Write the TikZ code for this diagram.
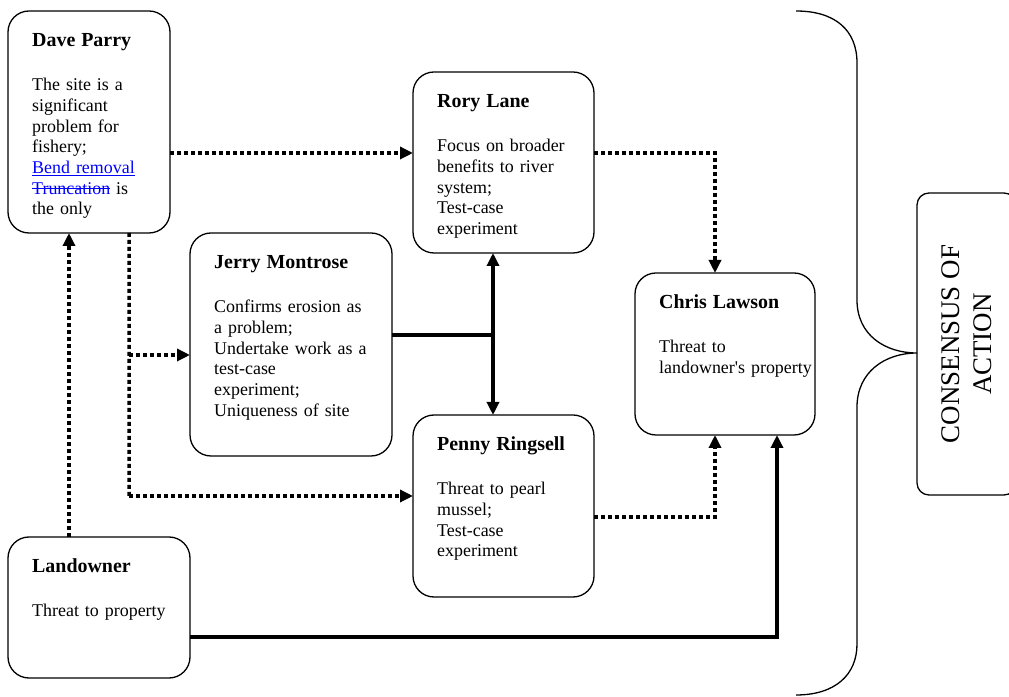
\documentclass[tikz,border=0pt]{standalone}
\usepackage{fontspec}
\setmainfont{Liberation Serif}
\usetikzlibrary{arrows.meta}

\newcommand{\boxtitle}[1]{{\fontsize{20}{23}\selectfont\bfseries #1}}
\newcommand{\struckword}[1]{\leavevmode\setbox0\hbox{#1}\rlap{\rule[0.27em]{\wd0}{0.07em}}\box0}
\newcommand{\plainquote}{{\addfontfeatures{Ligatures=TeXOff}'}}

\begin{document}
\begin{tikzpicture}[>={Triangle[length=13bp,width=12bp]},line join=miter,
  box/.style={draw,line width=1.3bp,rounded corners=21bp,inner sep=0pt,outer sep=0pt},
  txt/.style={anchor=base west,inner sep=0pt,text width=175bp,align=left,font=\fontsize{18}{20.7}\selectfont},
  dotline/.style={line width=3.5bp,dash pattern=on 4bp off 3bp},
  solidline/.style={line width=3.3bp},
]
\useasboundingbox (0bp,0bp) rectangle (1009bp,697bp);
%%
\node (node_dave) at (89bp,575bp) [box,minimum width=162bp,minimum height=222bp] {};
  \node (node_rory) at (503.5bp,534.5bp) [box,minimum width=181bp,minimum height=181bp] {};
  \node (node_jerry) at (291bp,352.5bp) [box,minimum width=202bp,minimum height=223bp] {};
  \node (node_chris) at (725bp,343bp) [box,minimum width=180bp,minimum height=162bp] {};
  \node (node_penny) at (503.5bp,191bp) [box,minimum width=181bp,minimum height=182bp] {};
  \node (node_land) at (99bp,89.5bp) [box,minimum width=182bp,minimum height=141bp] {};
  \node (node_consensus) at (966.5bp,353bp) [box,rounded corners=12bp,rotate=90,minimum width=302bp,minimum height=99bp,
    align=center,font=\fontsize{27}{32}\selectfont] {CONSENSUS OF\\ACTION};
%
\node (text_dave) at ([xshift=24bp,yshift=-36bp]node_dave.north west) [txt] {\boxtitle{Dave Parry}\\[23.3bp]
    The site is a\\ significant\\ problem for\\ fishery;\\
    \textcolor{blue}{\underline{Bend removal}}\\ \textcolor{blue}{\struckword{Truncation}} is\\ the only};
  \node (text_rory) at ([xshift=24bp,yshift=-36bp]node_rory.north west) [txt] {\boxtitle{Rory Lane}\\[23.3bp]
    Focus on broader\\ benefits to river\\ system;\\ Test-case\\ experiment};
  \node (text_jerry) at ([xshift=24bp,yshift=-36bp]node_jerry.north west) [txt] {\boxtitle{Jerry Montrose}\\[23.3bp]
    Confirms erosion as\\ a problem;\\ Undertake work as a\\ test-case\\ experiment;\\ Uniqueness of site};
  \node (text_chris) at ([xshift=24bp,yshift=-36bp]node_chris.north west) [txt] {\boxtitle{Chris Lawson}\\[23.3bp]
    Threat to\\ landowner\plainquote s property};
  \node (text_penny) at ([xshift=24bp,yshift=-36bp]node_penny.north west) [txt] {\boxtitle{Penny Ringsell}\\[23.3bp]
    Threat to pearl\\ mussel;\\ Test-case\\ experiment};
  \node (text_land) at ([xshift=24bp,yshift=-36bp]node_land.north west) [txt] {\boxtitle{Landowner}\\[23.3bp]
    Threat to property};
%
\coordinate (fork_0) at (129bp,342bp);
  \coordinate (fork_1) at (129bp,201bp);
  \coordinate (meet_0) at (493bp,362bp);
  \draw [dotline,->] ([yshift=-31bp]node_dave.east) -- ([yshift=-31bp]node_dave.east -| node_rory.west);
  \draw [dotline,->] ([yshift=9.5bp]node_rory.east) -| ([xshift=-10bp]node_chris.north);
  \draw [dotline,->] ([xshift=-30bp]node_land.north) -- ([xshift=-30bp]node_land.north |- node_dave.south);
  \draw [dotline] ([xshift=40bp]node_dave.south) -- (fork_1);
  \draw [dotline,->] (fork_0) -- (fork_0 -| node_jerry.west);
  \draw [dotline,->] (fork_1) -- (fork_1 -| node_penny.west);
  \draw [dotline,->] ([yshift=-11bp]node_penny.east) -| ([xshift=-10bp]node_chris.south);
  \draw [solidline,<->] ([xshift=-10.5bp]node_rory.south) -- ([xshift=-10.5bp]node_penny.north);
  \draw [solidline] (meet_0 -| node_jerry.east) -- (meet_0);
  \draw [solidline,->] ([yshift=-29.5bp]node_land.east) -| ([xshift=52bp]node_chris.south);
%
\draw [line width=1.3bp] (796bp,686bp) .. controls (835bp,686bp) and (857bp,667bp) .. (857bp,634bp)
    -- (857bp,397bp) .. controls (857bp,362bp) and (885bp,344bp) .. (917bp,344bp)
    .. controls (885bp,344bp) and (857bp,325bp) .. (857bp,290bp)
    -- (857bp,53bp) .. controls (857bp,22bp) and (835bp,2bp) .. (796bp,2bp);
%
\end{tikzpicture}
\end{document}
